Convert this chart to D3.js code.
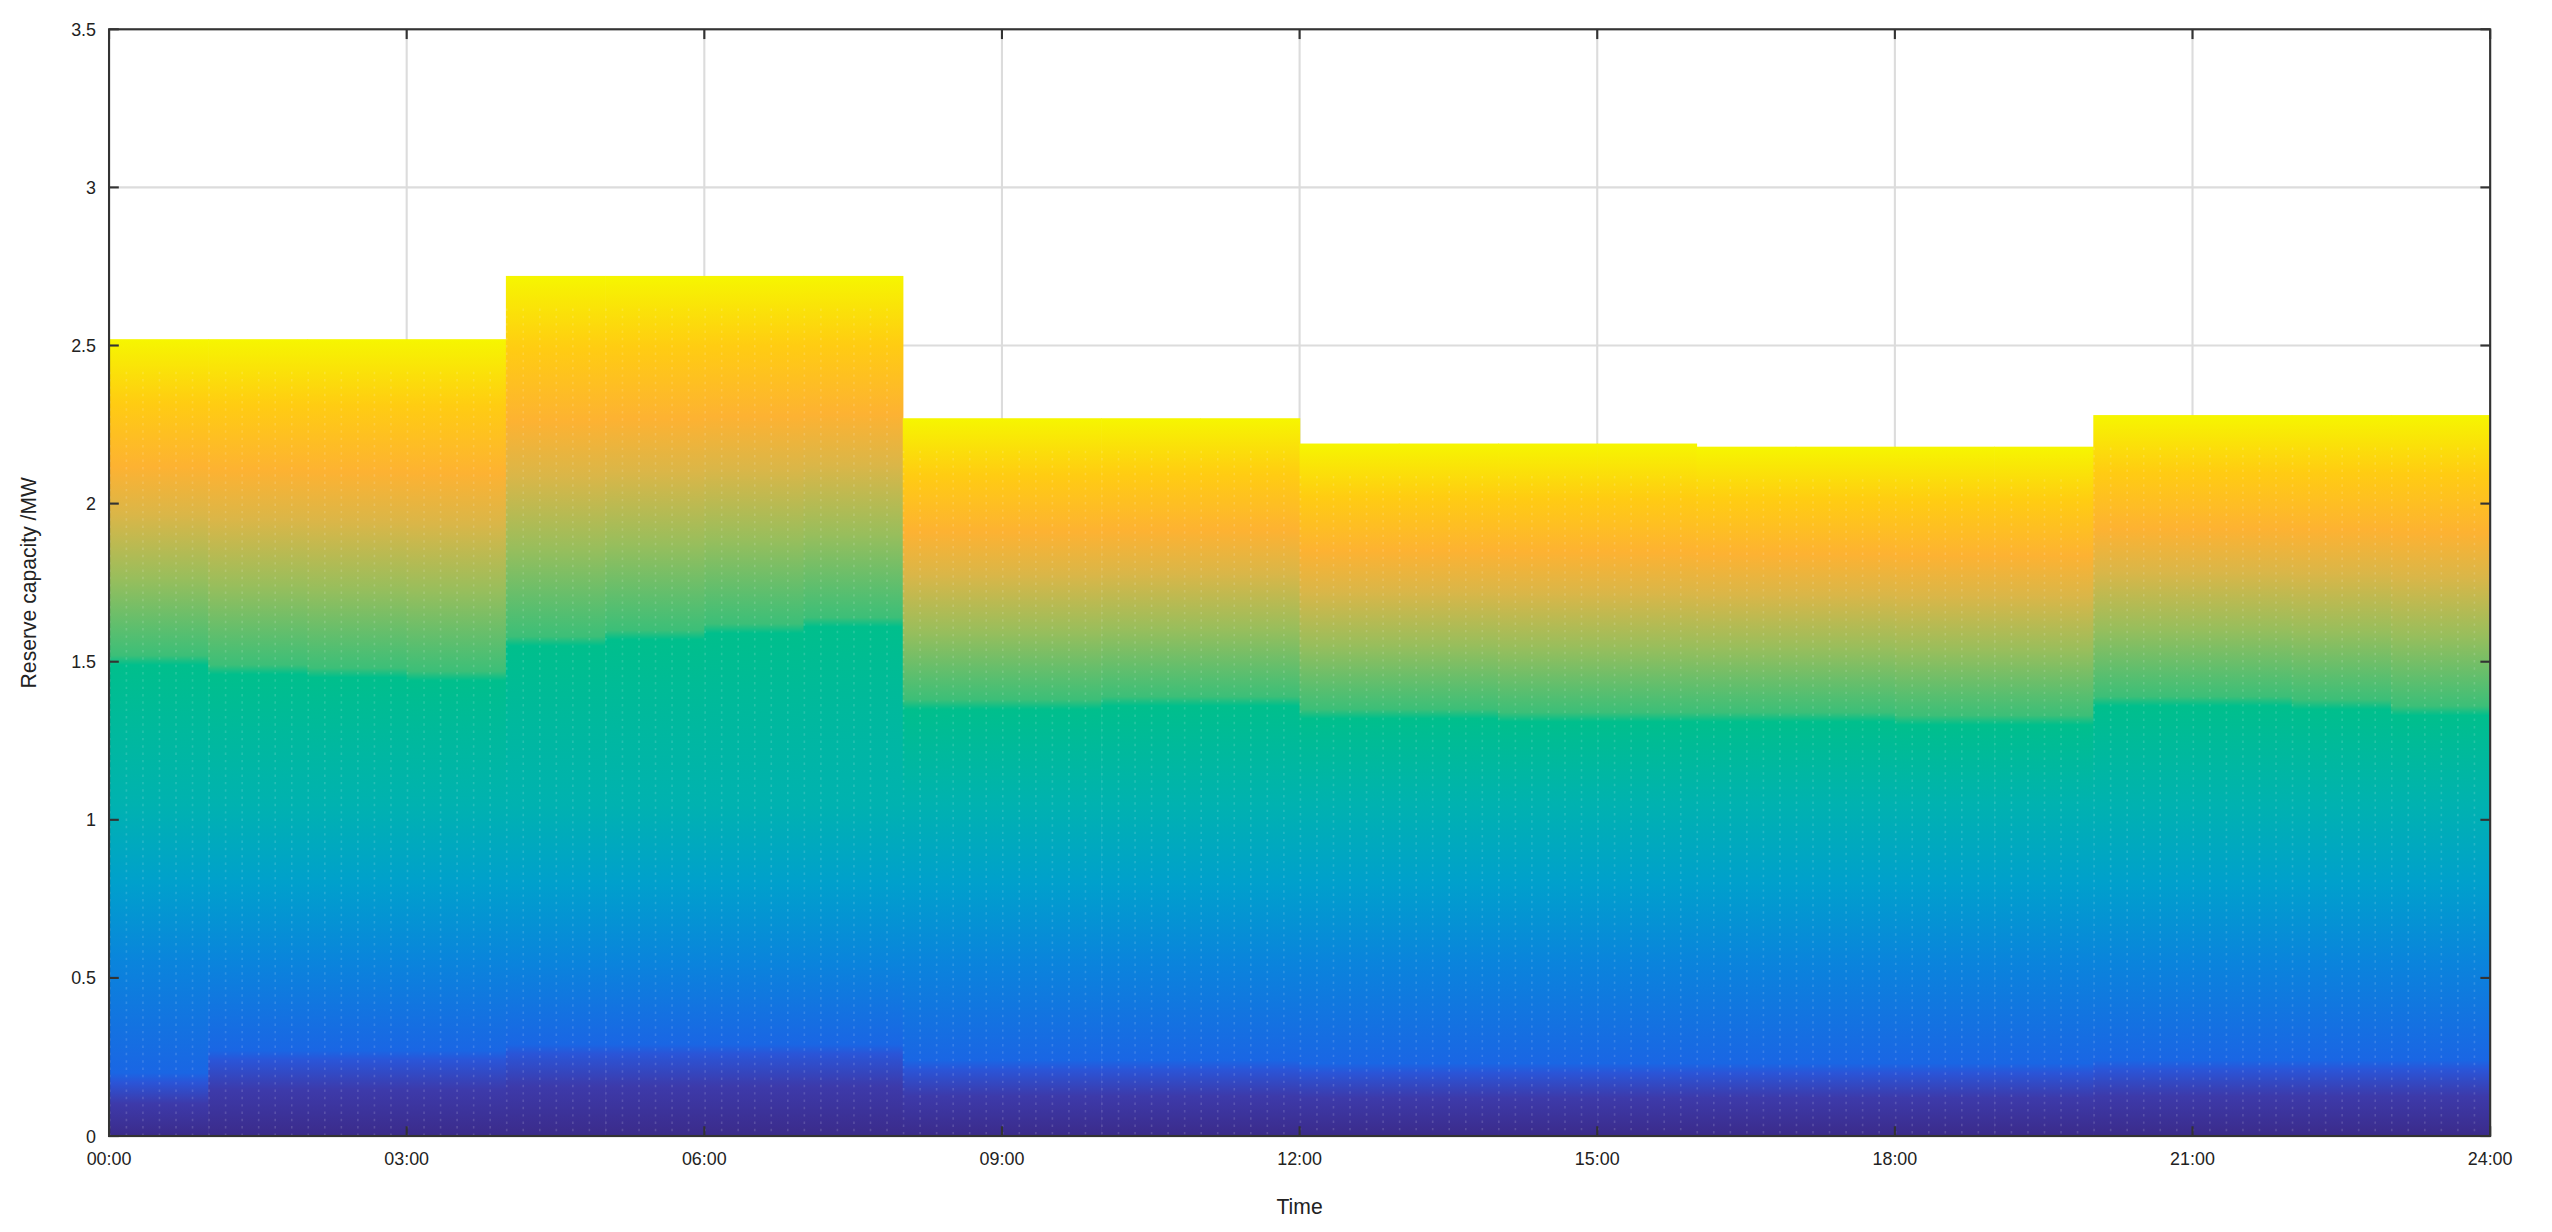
<!DOCTYPE html>
<html><head><meta charset="utf-8">
<script src="https://cdn.jsdelivr.net/npm/d3@7"></script>
<style>body{margin:0;background:#fff}svg{display:block}</style>
</head><body>
<script>
// hourly data (hour index 0..23)
const hours = d3.range(24);
const topValues = [2.52,2.52,2.52,2.52, 2.72,2.72,2.72,2.72, 2.27,2.27,2.27,2.27, 2.19,2.19,2.19,2.19, 2.18,2.18,2.18,2.18, 2.28,2.28,2.28,2.28];
const kneeValues = [1.51,1.48,1.47,1.46, 1.57,1.59,1.61,1.63, 1.37,1.37,1.38,1.38, 1.34,1.34,1.33,1.33, 1.33,1.33,1.32,1.32, 1.38,1.38,1.37,1.35];
const darkValues = [0.17,0.24,0.24,0.24, 0.26,0.26,0.26,0.26, 0.21,0.21,0.21,0.21, 0.2,0.2,0.2,0.2, 0.2,0.2,0.2,0.2, 0.21,0.21,0.21,0.21];
const yTicks = [0,0.5,1,1.5,2,2.5,3,3.5];
const xTickLabels = ["00:00","03:00","06:00","09:00","12:00","15:00","18:00","21:00","24:00"];

const W=2552,H=1232,S=W/1568;
const m={l:67,r:1530,t:18,b:698};
const root=d3.select("body").append("svg").attr("width",W).attr("height",H);
const svg=root.append("g").attr("transform",`scale(${S})`);
const x=d3.scaleLinear().domain([0,24]).range([m.l,m.r]);
const y=d3.scaleLinear().domain([0,3.5]).range([m.b,m.t]);
const font="Liberation Sans, Arial, sans-serif";

svg.append("g").selectAll("line").data(yTicks).join("line")
 .attr("x1",m.l).attr("x2",m.r).attr("y1",d=>y(d)).attr("y2",d=>y(d))
 .attr("stroke","#dcdcdc").attr("stroke-width",1.3);
svg.append("g").selectAll("line").data(d3.range(0,25,3)).join("line")
 .attr("y1",m.t).attr("y2",m.b).attr("x1",d=>x(d)).attr("x2",d=>x(d))
 .attr("stroke","#dcdcdc").attr("stroke-width",1.3);

const defs=root.append("defs");
hours.forEach(h=>{
  const top=topValues[h],k=kneeValues[h],dk=darkValues[h];
  const g=defs.append("linearGradient").attr("id","g"+h).attr("gradientUnits","userSpaceOnUse")
    .attr("x1",0).attr("x2",0).attr("y1",y(0)).attr("y2",y(top));
  const span=top-k;
  const stops=[
   [0,"#3b2b8a"],[dk*0.6,"#3d3aaa"],[dk,"#2a55d8"],[dk+0.03,"#1a66e4"],[0.55,"#0a84dc"],
   [0.8,"#00a0cc"],[1.05,"#00b2b0"],[k-0.02,"#00bf8c"],
   [k+0.01,"#3cbf78"],[k+span*0.25,"#98be5c"],[k+span*0.45,"#dab648"],[k+span*0.6,"#fdb232"],
   [k+span*0.8,"#ffcc12"],[top,"#f6f600"]];
  stops.forEach(s=>g.append("stop").attr("offset",Math.min(1,s[0]/top)).attr("stop-color",s[1]));
});
svg.append("g").selectAll("rect").data(hours).join("rect")
 .attr("x",h=>x(h)).attr("width",h=>x(h+1)-x(h)+0.4)
 .attr("y",h=>y(topValues[h])).attr("height",h=>y(0)-y(topValues[h]))
 .attr("fill",h=>`url(#g${h})`);
const slots=d3.range(0,144).map(i=>i/6);
svg.append("g").selectAll("line").data(slots).join("line")
 .attr("x1",d=>x(d)+0.5).attr("x2",d=>x(d)+0.5)
 .attr("y1",d=>y(topValues[Math.floor(d)])+20).attr("y2",y(0))
 .attr("stroke","#fff").attr("stroke-opacity",0.15).attr("stroke-width",1).attr("stroke-dasharray","1.5,3");

svg.append("rect").attr("x",m.l).attr("y",m.t).attr("width",m.r-m.l).attr("height",m.b-m.t)
 .attr("fill","none").attr("stroke","#333").attr("stroke-width",1.3);
const tk=svg.append("g").attr("stroke","#333").attr("stroke-width",1.3);
yTicks.forEach(v=>{tk.append("line").attr("x1",m.l).attr("x2",m.l+6).attr("y1",y(v)).attr("y2",y(v));
  tk.append("line").attr("x1",m.r).attr("x2",m.r-6).attr("y1",y(v)).attr("y2",y(v));});
d3.range(0,25,3).forEach(v=>{tk.append("line").attr("y1",m.b).attr("y2",m.b-6).attr("x1",x(v)).attr("x2",x(v));
  tk.append("line").attr("y1",m.t).attr("y2",m.t+6).attr("x1",x(v)).attr("x2",x(v));});
svg.append("g").selectAll("text").data(yTicks).join("text")
 .attr("x",m.l-8).attr("y",d=>y(d)+4).attr("text-anchor","end")
 .attr("font-family",font).attr("font-size",11).attr("fill","#222").text(d=>d);
svg.append("g").selectAll("text").data(xTickLabels).join("text")
 .attr("x",(d,i)=>x(i*3)).attr("y",m.b+18).attr("text-anchor","middle")
 .attr("font-family",font).attr("font-size",11).attr("fill","#222").text(d=>d);
svg.append("text").attr("x",(m.l+m.r)/2).attr("y",m.b+48).attr("text-anchor","middle")
 .attr("font-family",font).attr("font-size",13).attr("fill","#222").text("Time");
svg.append("text").attr("transform",`translate(22,${(m.t+m.b)/2}) rotate(-90)`).attr("text-anchor","middle")
 .attr("font-family",font).attr("font-size",13).attr("fill","#222").text("Reserve capacity /MW");
</script>
</body></html>
